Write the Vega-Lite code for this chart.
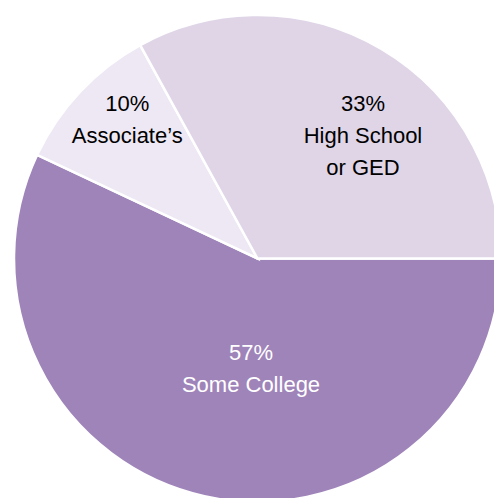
{
  "$schema": "https://vega.github.io/schema/vega-lite/v6.json",
  "width": 487,
  "height": 487,
  "padding": {"left": 14, "top": 15, "right": 0, "bottom": 0},
  "autosize": {"type": "none"},
  "background": "white",
  "config": {"view": {"stroke": null}},
  "data": {
    "values": [
      {"category": "Some College", "pct": 57, "rank": 1, "label": "57%\nSome College"},
      {"category": "Associate’s", "pct": 10, "rank": 2, "label": "10%\nAssociate’s"},
      {"category": "High School or GED", "pct": 33, "rank": 3, "label": "33%\nHigh School\nor GED"}
    ]
  },
  "encoding": {
    "theta": {"field": "pct", "type": "quantitative", "stack": true, "scale": {"range": [1.5707963, 7.8539816]}},
    "order": {"field": "rank", "type": "quantitative"}
  },
  "layer": [
    {
      "mark": {"type": "arc", "stroke": "white", "strokeWidth": 2.5},
      "encoding": {
        "color": {
          "field": "category", "type": "nominal", "legend": null,
          "scale": {"domain": ["Some College", "Associate’s", "High School or GED"], "range": ["#9F84BA", "#EDE8F3", "#DFD5E7"]}
        }
      }
    },
    {
      "mark": {"type": "text", "radius": 110, "dx": 17.5, "dy": -6, "fontSize": 22, "font": "Liberation Sans", "lineBreak": "\n", "lineHeight": 32, "baseline": "alphabetic", "align": "center", "color": "white"},
      "encoding": {
        "text": {"condition": {"test": "datum.category === 'Some College'", "field": "label"}, "value": ""}
      }
    },
    {
      "mark": {"type": "text", "radius": 191, "dx": 9, "dy": -17, "fontSize": 22, "font": "Liberation Sans", "lineBreak": "\n", "lineHeight": 32, "baseline": "alphabetic", "align": "center", "color": "black"},
      "encoding": {
        "text": {"condition": {"test": "datum.category === 'Associate’s'", "field": "label"}, "value": ""}
      }
    },
    {
      "mark": {"type": "text", "radius": 160, "dx": 24, "dy": -10, "fontSize": 22, "font": "Liberation Sans", "lineBreak": "\n", "lineHeight": 32, "baseline": "alphabetic", "align": "center", "color": "black"},
      "encoding": {
        "text": {"condition": {"test": "datum.category === 'High School or GED'", "field": "label"}, "value": ""}
      }
    }
  ]
}
